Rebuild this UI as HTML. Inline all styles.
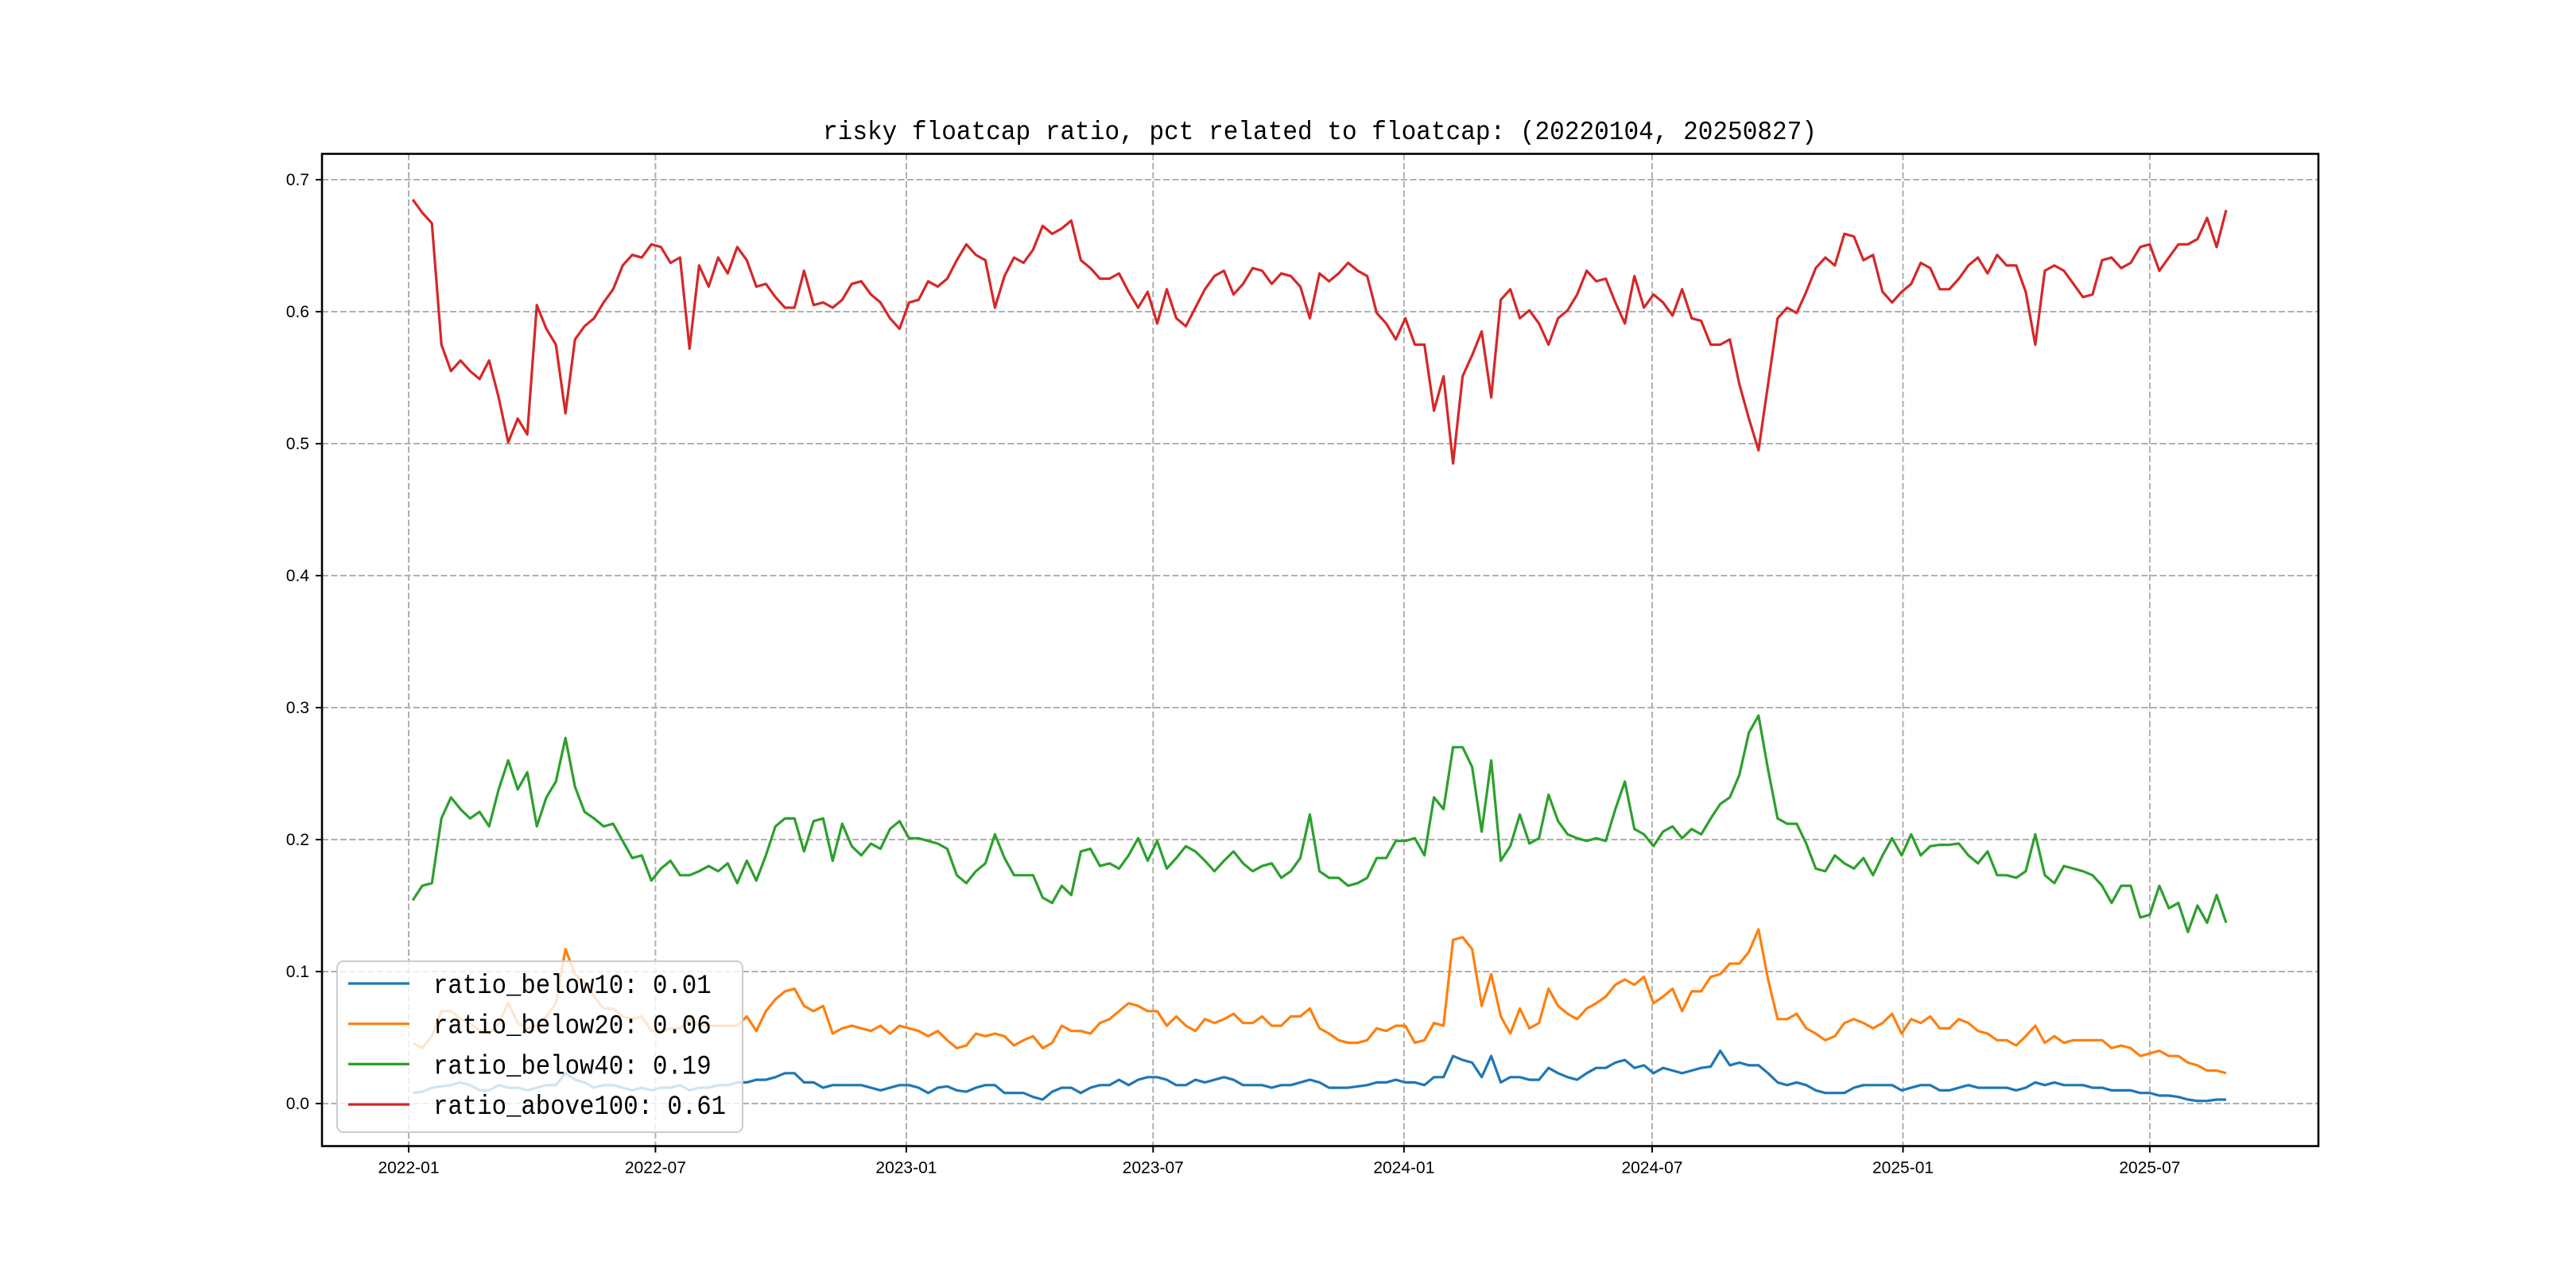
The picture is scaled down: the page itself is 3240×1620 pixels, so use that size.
<!DOCTYPE html>
<html>
<head>
<meta charset="utf-8">
<style>
  html, body { margin: 0; padding: 0; background: #fff; }
  svg { display: block; }
</style>
</head>
<body>
<svg id="chart" xmlns="http://www.w3.org/2000/svg" width="3240" height="1620" viewBox="0 0 3240 1620">
  <rect x="0" y="0" width="3240" height="1620" fill="#ffffff"/>
  <text x="1660" y="175" text-anchor="middle" font-family="'Liberation Mono', 'Noto Sans CJK SC', monospace" font-size="33" textLength="1250" lengthAdjust="spacingAndGlyphs" fill="#000">risky floatcap ratio, pct related to floatcap: (20220104, 20250827)</text>
  <g id="grid"></g>
  <g id="series"></g>
  <rect x="405" y="193.5" width="2511" height="1248" fill="none" stroke="#000" stroke-width="2.6"/>
  <g id="ticks"></g>
  <g id="legend"></g>
</svg>
<script>
// ---- data (weekly samples starting 2022-01-04) ----
const startDay = 3;   // days after 2022-01-01
const stepDays = 7;
const yTickValues = [0.0, 0.1, 0.2, 0.3, 0.4, 0.5, 0.6, 0.7];
const yTickLabels = ["0.0", "0.1", "0.2", "0.3", "0.4", "0.5", "0.6", "0.7"];
const xTickDates = ["2022-01-01", "2022-07-01", "2023-01-01", "2023-07-01", "2024-01-01", "2024-07-01", "2025-01-01", "2025-07-01"];
const xTickLabels = ["2022-01", "2022-07", "2023-01", "2023-07", "2024-01", "2024-07", "2025-01", "2025-07"];
const seriesNames = ["ratio_below10", "ratio_below20", "ratio_below40", "ratio_above100"];
const legendValues = ["0.01", "0.06", "0.19", "0.61"];

const below10 = [0.008,0.009,0.012,0.013,0.014,0.016,0.014,0.010,0.010,0.014,
0.012,0.012,0.010,0.012,0.014,0.014,0.023,0.018,0.016,0.012,
0.014,0.014,0.012,0.010,0.012,0.010,0.012,0.012,0.014,0.010,
0.012,0.012,0.014,0.014,0.016,0.016,0.018,0.018,0.020,0.023,
0.023,0.016,0.016,0.012,0.014,0.014,0.014,0.014,0.012,0.010,
0.012,0.014,0.014,0.012,0.008,0.012,0.013,0.010,0.009,0.012,0.014,
0.014,0.008,0.008,0.008,0.005,0.003,0.009,0.012,0.012,0.008,
0.012,0.014,0.014,0.018,0.014,0.018,0.020,0.020,0.018,0.014,
0.014,0.018,0.016,0.018,0.020,0.018,0.014,0.014,0.014,0.012,
0.014,0.014,0.016,0.018,0.016,0.012,0.012,0.012,0.013,0.014,
0.016,0.016,0.018,0.016,0.016,0.014,0.020,0.020,0.036,0.033,
0.031,0.020,0.036,0.016,0.020,0.020,0.018,0.018,0.027,0.023,
0.020,0.018,0.023,0.027,0.027,0.031,0.033,0.027,0.029,
0.023,0.027,0.025,0.023,0.025,0.027,0.028,0.040,0.029,0.031,
0.029,0.029,0.023,0.016,0.014,0.016,0.014,0.010,0.008,0.008,
0.008,0.012,0.014,0.014,0.014,0.014,0.010,0.012,0.014,0.014,
0.010,0.010,0.012,0.014,0.012,0.012,0.012,0.012,0.010,0.012,
0.016,0.014,0.016,0.014,0.014,0.014,0.012,0.012,0.010,0.010,
0.010,0.008,0.008,0.006,0.006,0.005,0.003,0.002,0.002,0.003,0.003];

const below20 = [0.046,0.042,0.051,0.070,0.070,0.064,0.061,0.055,0.053,0.061,
0.076,0.061,0.057,0.059,0.066,0.076,0.117,0.098,0.092,0.081,
0.072,0.072,0.066,0.064,0.066,0.055,0.055,0.057,0.057,0.064,
0.059,0.059,0.059,0.059,0.059,0.066,0.055,0.070,0.079,0.085,
0.087,0.074,0.070,0.074,0.053,0.057,0.059,0.057,0.055,0.059,
0.053,0.059,0.057,0.055,0.051,0.055,0.048,0.042,0.044,0.053,0.051,
0.053,0.051,0.044,0.048,0.051,0.042,0.046,0.059,0.055,0.055,
0.053,0.061,0.064,0.070,0.076,0.074,0.070,0.070,0.059,0.066,
0.059,0.055,0.064,0.061,0.064,0.068,0.061,0.061,0.066,0.059,
0.059,0.066,0.066,0.072,0.057,0.053,0.048,0.046,0.046,0.048,
0.057,0.055,0.059,0.059,0.046,0.048,0.061,0.059,0.124,0.126,
0.117,0.074,0.098,0.066,0.053,0.072,0.057,0.061,0.087,0.074,
0.068,0.064,0.072,0.076,0.081,0.090,0.094,0.090,0.096,
0.076,0.081,0.087,0.070,0.085,0.085,0.096,0.098,0.106,0.106,
0.115,0.132,0.094,0.064,0.064,0.068,0.057,0.053,0.048,0.051,
0.061,0.064,0.061,0.057,0.061,0.068,0.053,0.064,0.061,0.066,
0.057,0.057,0.064,0.061,0.055,0.053,0.048,0.048,0.044,0.051,
0.059,0.046,0.051,0.046,0.048,0.048,0.048,0.048,0.042,0.044,
0.042,0.036,0.038,0.040,0.036,0.036,0.031,0.029,0.025,0.025,0.023];

const below40 = [0.154,0.165,0.167,0.216,0.232,0.223,0.216,0.221,0.210,0.238,
0.260,0.238,0.251,0.210,0.232,0.244,0.277,0.240,0.221,0.216,
0.210,0.212,0.199,0.186,0.188,0.169,0.178,0.184,0.173,0.173,
0.176,0.180,0.176,0.182,0.167,0.184,0.169,0.188,0.210,0.216,
0.216,0.191,0.214,0.216,0.184,0.212,0.195,0.188,0.197,0.193,
0.208,0.214,0.201,0.201,0.199,0.197,0.193,0.173,0.167,0.176,0.182,
0.204,0.186,0.173,0.173,0.173,0.156,0.152,0.165,0.158,0.191,
0.193,0.180,0.182,0.178,0.188,0.201,0.184,0.199,0.178,0.186,
0.195,0.191,0.184,0.176,0.184,0.191,0.182,0.176,0.180,0.182,
0.171,0.176,0.186,0.219,0.176,0.171,0.171,0.165,0.167,0.171,
0.186,0.186,0.199,0.199,0.201,0.188,0.232,0.223,0.270,0.270,
0.255,0.206,0.260,0.184,0.195,0.219,0.197,0.201,0.234,0.214,
0.204,0.201,0.199,0.201,0.199,0.223,0.244,0.208,0.204,
0.195,0.206,0.210,0.201,0.208,0.204,0.216,0.227,0.232,0.249,
0.281,0.294,0.253,0.216,0.212,0.212,0.197,0.178,0.176,0.188,
0.182,0.178,0.186,0.173,0.188,0.201,0.188,0.204,0.188,0.195,
0.196,0.196,0.197,0.188,0.182,0.191,0.173,0.173,0.171,0.176,
0.204,0.173,0.167,0.180,0.178,0.176,0.173,0.165,0.152,0.165,
0.165,0.141,0.143,0.165,0.148,0.152,0.130,0.150,0.137,0.158,0.137];

const above100 = [0.685,0.675,0.667,0.575,0.555,0.563,0.555,0.549,0.563,0.535,
0.501,0.519,0.507,0.605,0.587,0.575,0.523,0.579,0.589,0.595,
0.607,0.617,0.635,0.643,0.641,0.651,0.649,0.637,0.641,0.572,
0.635,0.619,0.641,0.629,0.649,0.639,0.619,0.621,0.611,0.603,
0.603,0.631,0.605,0.607,0.603,0.609,0.621,0.623,0.613,0.607,
0.595,0.587,0.607,0.609,0.623,0.619,0.625,0.639,0.651,0.643,0.639,
0.603,0.627,0.641,0.637,0.647,0.665,0.659,0.663,0.669,0.639,
0.633,0.625,0.625,0.629,0.615,0.603,0.615,0.591,0.617,0.595,
0.589,0.603,0.617,0.627,0.631,0.613,0.621,0.633,0.631,0.621,
0.629,0.627,0.619,0.595,0.629,0.623,0.629,0.637,0.631,0.627,
0.599,0.591,0.579,0.595,0.575,0.575,0.525,0.551,0.485,0.551,
0.567,0.585,0.535,0.609,0.617,0.595,0.601,0.591,0.575,0.595,
0.601,0.613,0.631,0.623,0.625,0.607,0.591,0.627,0.603,
0.613,0.607,0.597,0.617,0.595,0.593,0.575,0.575,0.579,0.545,
0.519,0.495,0.545,0.595,0.603,0.599,0.615,0.633,0.641,0.635,
0.659,0.657,0.639,0.643,0.615,0.607,0.615,0.621,0.637,0.633,
0.617,0.617,0.625,0.635,0.641,0.629,0.643,0.635,0.635,0.615,
0.575,0.631,0.635,0.631,0.621,0.611,0.613,0.639,0.641,0.633,
0.637,0.649,0.651,0.631,0.641,0.651,0.651,0.655,0.671,0.649,0.677];

// ---- scales ----
const NS = "http://www.w3.org/2000/svg";
const plotL = 405, plotR = 2916, plotT = 193.5, plotB = 1441.6;
const dayOrigin = Date.UTC(2022, 0, 1);
function xScale(day) { return 514 + day * 1.7149; }
function yScale(v) { return 1388 - v * 1660; }
function dateToDay(s) {
  const p = s.split("-").map(Number);
  return (Date.UTC(p[0], p[1] - 1, p[2]) - dayOrigin) / 86400000;
}
function mk(tag, attrs, parent) {
  const el = document.createElementNS(NS, tag);
  for (const k in attrs) el.setAttribute(k, attrs[k]);
  parent.appendChild(el);
  return el;
}

const grid = document.getElementById("grid");
const ticks = document.getElementById("ticks");
const seriesG = document.getElementById("series");
const legendG = document.getElementById("legend");

// y grid and ticks
yTickValues.forEach((v, i) => {
  const y = yScale(v);
  const gl = mk("line", {x1: plotL, x2: plotR, y1: y, y2: y, stroke: "#b0b0b0", "stroke-width": 2, "stroke-dasharray": "8,3.5"}, grid);
  
  
  const tk = mk("line", {x1: plotL - 8, x2: plotL, y1: y, y2: y, stroke: "#000", "stroke-width": 2}, ticks);
  
  
  const t = mk("text", {x: plotL - 16, y: y + 7, "text-anchor": "end", "font-family": "'Liberation Sans', sans-serif", "font-size": 21, fill: "#000"}, ticks);
  
  
  t.textContent = yTickLabels[i];
});

// x grid and ticks
xTickDates.forEach((d, i) => {
  const x = xScale(dateToDay(d));
  const gl = mk("line", {x1: x, x2: x, y1: plotT, y2: plotB, stroke: "#b0b0b0", "stroke-width": 2, "stroke-dasharray": "8,3.5"}, grid);
  
  
  const tk = mk("line", {x1: x, x2: x, y1: plotB, y2: plotB + 8, stroke: "#000", "stroke-width": 2}, ticks);
  
  
  const t = mk("text", {x: x, y: plotB + 34, "text-anchor": "middle", "font-family": "'Liberation Sans', sans-serif", "font-size": 21, fill: "#000"}, ticks);
  
  
  t.textContent = xTickLabels[i];
});

// series lines
const seriesData = [below10, below20, below40, above100];
const colors = ["#1f77b4", "#ff7f0e", "#2ca02c", "#d62728"];
seriesData.forEach((arr, s) => {
  const pts = arr.map((v, i) => xScale(startDay + i * stepDays).toFixed(1) + "," + yScale(v).toFixed(1)).join(" ");
  const pl = mk("polyline", {points: pts, fill: "none", stroke: colors[s], "stroke-width": 3.2, "stroke-linejoin": "round"}, seriesG);
  
  
});

// legend
const box = mk("rect", {x: 424, y: 1209, width: 510, height: 215, rx: 8, ry: 8, fill: "rgba(255,255,255,0.8)", stroke: "#cccccc", "stroke-width": 2}, legendG);


seriesNames.forEach((n, s) => {
  const y = 1237 + s * 50.7;
  const ln = mk("line", {x1: 438, x2: 515, y1: y, y2: y, stroke: colors[s], "stroke-width": 3.2}, legendG);
  
  
  const label = n + ": " + legendValues[s];
  const t = mk("text", {x: 545, y: y + 12, "font-family": "'Liberation Mono', 'Noto Sans CJK SC', monospace", "font-size": 34, fill: "#000", textLength: (label.length * 18.4).toFixed(1), lengthAdjust: "spacingAndGlyphs"}, legendG);
  
  
  t.textContent = label;
});
</script>
</body>
</html>
